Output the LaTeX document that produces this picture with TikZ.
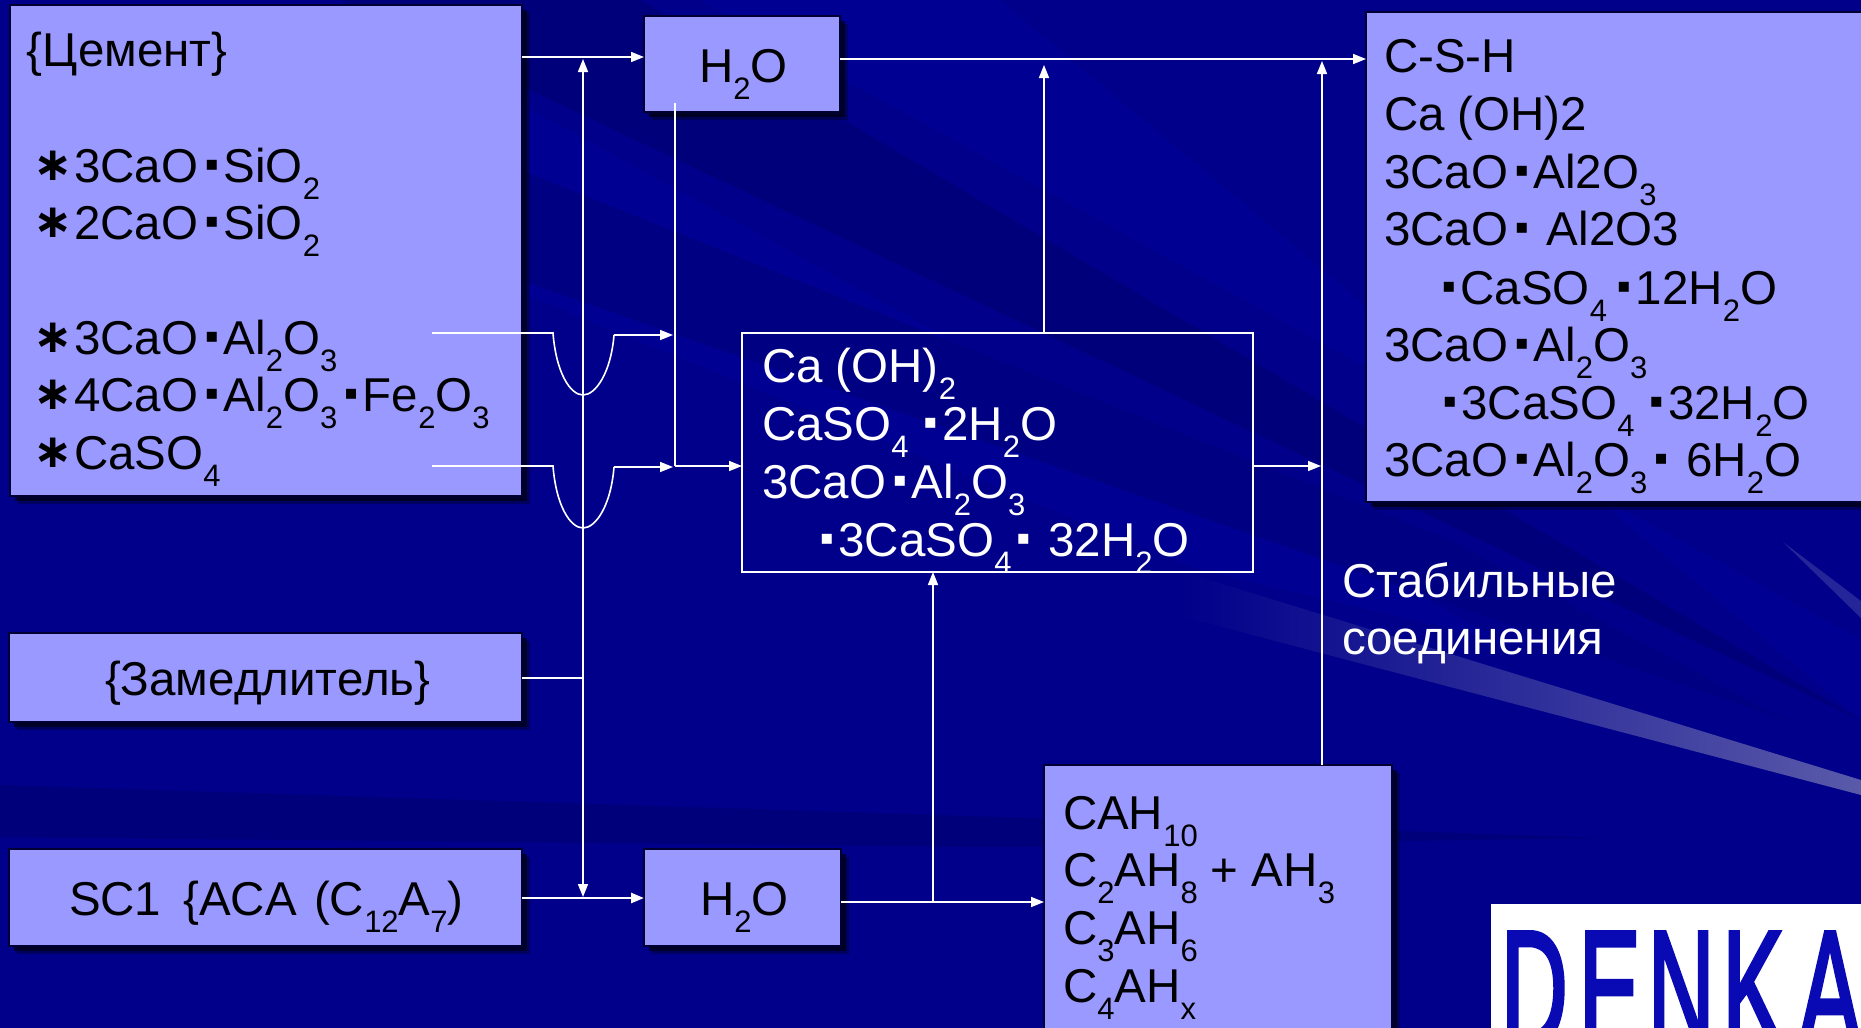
\documentclass[tikz,border=0pt]{standalone}
\usepackage{graphicx}
\usepackage{fontspec}
\setmainfont{Liberation Sans}
\newfontfamily\djv{DejaVu Sans}
\newfontfamily\djvb{DejaVu Sans Bold}
\newfontfamily\logof[FakeBold=3]{Liberation Sans}
\usetikzlibrary{arrows.meta,shadows}
\definecolor{bgc}{HTML}{00008A}
\definecolor{bgdark}{HTML}{00007A}
\definecolor{bgmid}{HTML}{000082}
\definecolor{bglight}{HTML}{000092}
\definecolor{boxc}{HTML}{9999FF}
\definecolor{logoc}{HTML}{0A0AB4}
\definecolor{beama}{HTML}{2A2AA0}
\definecolor{beamb}{HTML}{5A5AAA}
\definecolor{beamc}{HTML}{25259A}
\newcommand\sbs[1]{\raisebox{-17.5pt}{\fontsize{31}{31}\selectfont #1}}
\newcommand\dt{\kern7pt\raisebox{12pt}{\fontsize{20}{20}\selectfont\djv ▪}\kern5pt}
\newcommand\bul{\raisebox{2pt}{\fontsize{47}{47}\selectfont\djvb ∗}}
\tikzset{
  box/.style={rectangle,inner sep=0,outer sep=0,fill=boxc,draw=black!80!blue,line width=1.2pt,
    general shadow={shadow xshift=8pt,shadow yshift=-8pt,fill=black,opacity=.3},
    general shadow={shadow xshift=5pt,shadow yshift=-5pt,fill=black,opacity=.6}},
  frame/.style={rectangle,inner sep=0,outer sep=0,draw=white,line width=2pt},
  lbl/.style={anchor=base west,inner sep=0,outer sep=0,text=black,font=\fontsize{47.5}{57}\selectfont},
  wlbl/.style={lbl,text=white},
  ln/.style={draw=white,line width=1.6pt},
  arr/.style={ln,-{Triangle[length=13pt,width=10pt]}},
  arrs/.style={ln,line width=2.6pt,-{Triangle[length=13pt,width=10pt]}},
  arrb/.style={ln,{Triangle[length=13pt,width=10pt]}-{Triangle[length=13pt,width=10pt]}},
}
\begin{document}
\begin{tikzpicture}[x=1pt,y=-1pt]
\path[use as bounding box,clip] (0,0) rectangle (1861,1028);
% background
\fill[bgc] (0,0) rectangle (1861,1028);
\fill[bglight] (700,0) -- (1861,640) -- (1861,720) -- (1000,0) -- cycle;
\fill[bglight] (440,60) -- (1500,640) -- (1200,570) -- (440,260) -- cycle;
\fill[bgdark] (1861,720) -- (640,0) -- (340,0) -- cycle;
\fill[bgmid] (1790,722) -- (1450,540) -- (520,170) -- (520,280) -- cycle;
\fill[bgdark] (0,785) -- (1000,817) -- (1600,838) -- (1000,847) -- (0,837) -- cycle;
\shade[left color=bgc,middle color=beama,right color=beamb]
  (1180,571) -- (1861,780) -- (1861,795) -- (1180,616) -- cycle;
\fill[beamc] (1783,542) -- (1861,601) -- (1861,618) -- cycle;
% boxes
\node[box,minimum width=512pt,minimum height=491pt] (cement) at (266,250.5) {};
\node[box,minimum width=196pt,minimum height=96pt] (h2oa) at (742,64) {};
\node[box,minimum width=520pt,minimum height=490pt] (csh) at (1626,257) {};
\node[frame,minimum width=511pt,minimum height=239pt] (inner) at (997.5,452.5) {};
\node[box,minimum width=513pt,minimum height=89pt] (zam) at (265.5,677.5) {};
\node[box,minimum width=513pt,minimum height=97pt] (sc) at (265.5,897.5) {};
\node[box,minimum width=197pt,minimum height=97pt] (h2ob) at (742.5,897.5) {};
\node[box,minimum width=348pt,minimum height=295pt] (cah) at (1218,912.5) {};
\node[rectangle,inner sep=0,outer sep=0,fill=white,minimum width=409pt,minimum height=156pt] (logo) at (1695.5,982) {};
% junctions
\coordinate (jt) at (583,57);
\coordinate (jb) at (583,897);
\coordinate (jz) at (583,678);
\coordinate (js) at (583,898);
\coordinate (ja) at (675,103);
\coordinate (jm) at (675,466);
\coordinate (jc) at (933,902);
\coordinate (jh) at (840,59);
\coordinate (ju) at (1044,65);
\coordinate (jv) at (1322,61);
\coordinate (jw) at (1321,466);
\coordinate (c1a) at (432,333);
\coordinate (c1b) at (553,333);
\coordinate (c1c) at (583,395);
\coordinate (c1d) at (614,335);
\coordinate (c1e) at (673,335);
\coordinate (c2a) at (432,466);
\coordinate (c2b) at (553,466);
\coordinate (c2c) at (583,528);
\coordinate (c2d) at (614,467);
\coordinate (c2e) at (673,467);
% connectors
\draw[arrb] (jb) -- (jt |- 0,59);
\draw[arr] (cement.east |- jt) -- (h2oa.west |- jt);
\draw[ln] (zam.east |- jz) -- (jz);
\draw[arrs] (sc.east |- js) -- (h2ob.west |- js);
\draw[arr] (h2ob.east |- jc) -- (cah.west |- jc);
\draw[arr] (jc) -- (jc |- inner.south);
\draw[arr] (h2oa.east |- jh) -- (csh.west |- jh);
\draw[arr] (inner.north -| ju) -- (ju);
\draw[arr] (cah.north -| jv) -- (jv);
\draw[arr] (inner.east |- jw) -- (jw);
\draw[ln] (ja) -- (jm);
\draw[arr] (jm) -- (inner.west |- jm);
\draw[ln] (c1a) -- (c1b) .. controls (556,372) and (570,395) .. (c1c) .. controls (596,395) and (611,372) .. (c1d);
\draw[arr] (c1d) -- (c1e);
\draw[ln] (c2a) -- (c2b) .. controls (556,505) and (570,528) .. (c2c) .. controls (596,528) and (611,505) .. (c2d);
\draw[arr] (c2d) -- (c2e);
% cement text
\node[lbl] (t1) at (27,66) {\{Цемент\}};
\node[lbl] (t2) at (33,182) {\bul};
\node[lbl] (t3) at (74,182) {3CaO\dt SiO\sbs{2}};
\node[lbl] (t4) at (33,239) {\bul};
\node[lbl] (t5) at (74,239) {2CaO\dt SiO\sbs{2}};
\node[lbl] (t6) at (33,354) {\bul};
\node[lbl] (t7) at (74,354) {3CaO\dt Al\sbs{2}O\sbs{3}};
\node[lbl] (t8) at (33,411) {\bul};
\node[lbl] (t9) at (74,411) {4CaO\dt Al\sbs{2}O\sbs{3}\dt Fe\sbs{2}O\sbs{3}};
\node[lbl] (t10) at (33,469) {\bul};
\node[lbl] (t11) at (74,469) {CaSO\sbs{4}};
% H2O
\node[lbl] (h1) at (699,82) {H\sbs{2}O};
\node[lbl] (h2) at (700,915) {H\sbs{2}O};
% zam, sc
\node[lbl] (z1) at (105,695) {\{Замедлитель\}};
\node[lbl] (s1) at (69,915) {SC1\kern22pt\{ACA\kern4pt\ (C\sbs{12}A\sbs{7})};
% inner text
\node[wlbl] (i1) at (762,382) {Ca (OH)\sbs{2}};
\node[wlbl] (i2) at (762,440) {CaSO\sbs{4}\kern8pt\dt 2H\sbs{2}O};
\node[wlbl] (i3) at (762,498) {3CaO\dt Al\sbs{2}O\sbs{3}};
\node[wlbl] (i4) at (813,556) {\dt 3CaSO\sbs{4}\kern-2pt\dt\ 32H\sbs{2}O};
% right text
\node[lbl] (r1) at (1384,72.5) {C-S-H};
\node[lbl] (r2) at (1384,130) {Ca (OH)2};
\node[lbl] (r3) at (1384,188) {3CaO\dt Al2O\sbs{3}};
\node[lbl] (r4) at (1384,245) {3CaO\dt\ Al2O3};
\node[lbl] (r5) at (1435,304) {\dt CaSO\sbs{4}\kern3pt\dt 12H\sbs{2}O};
\node[lbl] (r6) at (1384,361) {3CaO\dt Al\sbs{2}O\sbs{3}};
\node[lbl] (r7) at (1436,419) {\dt 3CaSO\sbs{4}\kern8pt\dt 32H\sbs{2}O};
\node[lbl] (r8) at (1384,476) {3CaO\dt Al\sbs{2}O\sbs{3}\dt\ 6H\sbs{2}O};
% note
\node[wlbl] (n1) at (1342,597) {Стабильные};
\node[wlbl] (n2) at (1342,654) {соединения};
% cah text
\node[lbl] (c1) at (1063,829) {CAH\sbs{10}};
\node[lbl] (c2) at (1063,886) {C\sbs{2}AH\sbs{8} + AH\sbs{3}};
\node[lbl] (c3) at (1063,944) {C\sbs{3}AH\sbs{6}};
\node[lbl] (c4) at (1063,1002) {C\sbs{4}AH\sbs{x}};
% logo
\node[anchor=base west,inner sep=0,outer sep=0,text=logoc,font=\fontsize{165}{165}\selectfont\logof] (denka) at (1501,1046)
  {\scalebox{.56}[1]{D\kern20pt E\kern13pt N\kern14pt K\kern27pt A}};
\end{tikzpicture}
\end{document}
